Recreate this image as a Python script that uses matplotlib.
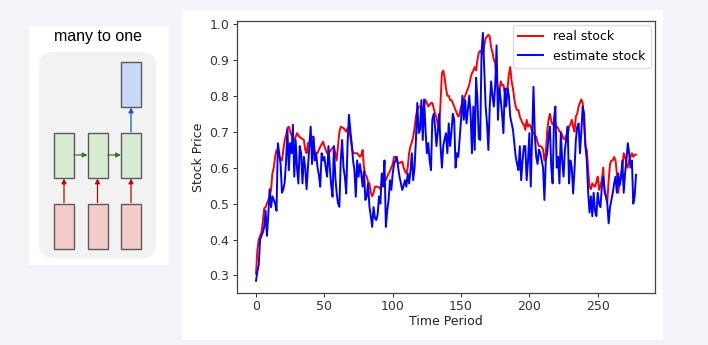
import numpy as np
import matplotlib
matplotlib.use("Agg")
import matplotlib.pyplot as plt
from matplotlib.patches import Rectangle, FancyBboxPatch

# real vs. estimated stock price (normalised), one value per time period
real_stock = [
    0.305, 0.37, 0.40, 0.41, 0.42, 0.45, 0.487, 0.49, 0.50, 0.51,
    0.52, 0.538, 0.584, 0.60, 0.63, 0.649, 0.64, 0.63, 0.625, 0.62,
    0.65, 0.677, 0.69, 0.71, 0.714, 0.70, 0.69, 0.68, 0.677, 0.685,
    0.696, 0.69, 0.685, 0.682, 0.68, 0.677, 0.65, 0.64, 0.668, 0.668,
    0.686, 0.686, 0.686, 0.644, 0.64, 0.64, 0.65, 0.658, 0.665, 0.672,
    0.66, 0.65, 0.64, 0.642, 0.644, 0.65, 0.655, 0.658, 0.64, 0.62,
    0.66, 0.70, 0.714, 0.712, 0.71, 0.705, 0.70, 0.71, 0.705, 0.686,
    0.66, 0.64, 0.64, 0.64, 0.64, 0.635, 0.63, 0.635, 0.649, 0.60,
    0.58, 0.575, 0.56, 0.556, 0.53, 0.52, 0.53, 0.547, 0.547, 0.547,
    0.545, 0.54, 0.56, 0.575, 0.57, 0.565, 0.575, 0.584, 0.59, 0.60,
    0.61, 0.63, 0.63, 0.62, 0.615, 0.612, 0.615, 0.617, 0.60, 0.59,
    0.584, 0.60, 0.64, 0.66, 0.67, 0.686, 0.71, 0.742, 0.76, 0.77,
    0.77, 0.765, 0.76, 0.775, 0.788, 0.78, 0.77, 0.775, 0.78, 0.78,
    0.765, 0.75, 0.74, 0.72, 0.714, 0.78, 0.863, 0.87, 0.85, 0.82,
    0.80, 0.80, 0.788, 0.788, 0.78, 0.77, 0.76, 0.75, 0.742, 0.75,
    0.77, 0.78, 0.79, 0.80, 0.81, 0.82, 0.83, 0.85, 0.863, 0.87,
    0.88, 0.87, 0.90, 0.92, 0.925, 0.92, 0.915, 0.94, 0.96, 0.965,
    0.97, 0.965, 0.935, 0.92, 0.90, 0.89, 0.85, 0.82, 0.81, 0.84,
    0.83, 0.83, 0.81, 0.82, 0.82, 0.86, 0.88, 0.84, 0.82, 0.79,
    0.77, 0.76, 0.76, 0.742, 0.733, 0.723, 0.72, 0.705, 0.733, 0.714,
    0.72, 0.714, 0.70, 0.696, 0.69, 0.686, 0.67, 0.66, 0.66, 0.658,
    0.65, 0.62, 0.64, 0.70, 0.733, 0.75, 0.73, 0.72, 0.723, 0.72,
    0.714, 0.71, 0.70, 0.70, 0.69, 0.68, 0.68, 0.69, 0.686, 0.714,
    0.72, 0.733, 0.714, 0.70, 0.742, 0.75, 0.77, 0.78, 0.79, 0.78,
    0.72, 0.66, 0.649, 0.593, 0.547, 0.54, 0.556, 0.55, 0.547, 0.56,
    0.575, 0.538, 0.55, 0.565, 0.60, 0.53, 0.52, 0.505, 0.565, 0.61,
    0.62, 0.62, 0.63, 0.62, 0.584, 0.53, 0.56, 0.58, 0.60, 0.64,
    0.63, 0.61, 0.60, 0.62, 0.63, 0.64, 0.63, 0.636, 0.636,
]

estimate_stock = [
    0.285, 0.31, 0.33, 0.40, 0.41, 0.42, 0.435, 0.48, 0.41, 0.47,
    0.54, 0.49, 0.52, 0.51, 0.50, 0.48, 0.668, 0.64, 0.61, 0.53,
    0.54, 0.56, 0.62, 0.705, 0.593, 0.668, 0.64, 0.719, 0.575, 0.677,
    0.60, 0.556, 0.66, 0.64, 0.556, 0.63, 0.60, 0.54, 0.60, 0.66,
    0.714, 0.61, 0.686, 0.62, 0.64, 0.60, 0.58, 0.547, 0.64, 0.62,
    0.63, 0.60, 0.575, 0.66, 0.60, 0.55, 0.519, 0.66, 0.575, 0.53,
    0.50, 0.491, 0.62, 0.677, 0.60, 0.575, 0.528, 0.668, 0.747, 0.705,
    0.668, 0.62, 0.593, 0.519, 0.62, 0.575, 0.61, 0.584, 0.547, 0.59,
    0.51, 0.52, 0.556, 0.491, 0.465, 0.435, 0.49, 0.46, 0.454, 0.47,
    0.52, 0.50, 0.584, 0.547, 0.62, 0.435, 0.48, 0.51, 0.565, 0.538,
    0.584, 0.61, 0.62, 0.63, 0.60, 0.575, 0.556, 0.538, 0.55, 0.565,
    0.547, 0.584, 0.556, 0.59, 0.64, 0.565, 0.60, 0.677, 0.78, 0.696,
    0.705, 0.788, 0.677, 0.79, 0.705, 0.64, 0.668, 0.62, 0.593, 0.733,
    0.75, 0.714, 0.66, 0.70, 0.75, 0.66, 0.60, 0.66, 0.68, 0.696,
    0.64, 0.723, 0.66, 0.70, 0.75, 0.733, 0.60, 0.64, 0.63, 0.68,
    0.733, 0.80, 0.733, 0.788, 0.723, 0.76, 0.80, 0.75, 0.64, 0.77,
    0.649, 0.85, 0.79, 0.68, 0.677, 0.92, 0.975, 0.87, 0.77, 0.723,
    0.649, 0.77, 0.84, 0.80, 0.77, 0.83, 0.94, 0.733, 0.82, 0.79,
    0.75, 0.696, 0.82, 0.77, 0.82, 0.80, 0.742, 0.723, 0.705, 0.668,
    0.63, 0.61, 0.593, 0.66, 0.565, 0.62, 0.66, 0.66, 0.565, 0.62,
    0.696, 0.547, 0.686, 0.825, 0.69, 0.63, 0.61, 0.65, 0.64, 0.62,
    0.60, 0.51, 0.62, 0.64, 0.686, 0.714, 0.60, 0.556, 0.733, 0.77,
    0.60, 0.63, 0.556, 0.696, 0.62, 0.575, 0.65, 0.68, 0.714, 0.556,
    0.62, 0.60, 0.528, 0.593, 0.677, 0.714, 0.723, 0.64, 0.70, 0.77,
    0.75, 0.66, 0.62, 0.53, 0.475, 0.52, 0.465, 0.53, 0.48, 0.465,
    0.53, 0.50, 0.49, 0.547, 0.575, 0.54, 0.52, 0.50, 0.445, 0.49,
    0.51, 0.53, 0.556, 0.575, 0.53, 0.584, 0.55, 0.57, 0.62, 0.53,
    0.584, 0.62, 0.668, 0.64, 0.60, 0.62, 0.50, 0.52, 0.58,
]

x_ticks = [0, 50, 100, 150, 200, 250]
y_ticks = [0.3, 0.4, 0.5, 0.6, 0.7, 0.8, 0.9, 1.0]

W, H = 708, 345
fig = plt.figure(figsize=(W / 100, H / 100), dpi=100, facecolor="#f3f4f8")

# ---------------------------------------------------------------------------
# left: "many to one" RNN sketch, drawn in pixel coordinates
# ---------------------------------------------------------------------------
bg = fig.add_axes([0, 0, 1, 1])
bg.set_xlim(0, W)
bg.set_ylim(H, 0)
bg.axis("off")

bg.add_patch(Rectangle((29, 26), 140, 239, facecolor="white", edgecolor="none"))
bg.add_patch(Rectangle((182, 10), 481, 330, facecolor="white", edgecolor="none"))
bg.add_patch(FancyBboxPatch((39 + 14, 52 + 14), 117 - 28, 206 - 28,
                            boxstyle="round,pad=14", facecolor="#f2f2f2",
                            edgecolor="none"))
bg.text(98, 36, "many to one", ha="center", va="center", fontsize=11.5,
        family="Liberation Sans", color="black")

box_x = [54, 87.5, 121]
box_w, box_h = 20, 45
edge = "#5b5b5b"
for bx in box_x:
    bg.add_patch(Rectangle((bx, 203.5), box_w, box_h, facecolor="#f4cccc",
                           edgecolor=edge, lw=1.0))
    bg.add_patch(Rectangle((bx, 132.5), box_w, box_h, facecolor="#d9ead3",
                           edgecolor=edge, lw=1.0))
    bg.annotate("", xy=(bx + box_w / 2, 178.5), xytext=(bx + box_w / 2, 202.5),
                arrowprops=dict(arrowstyle="-|>", color="#cc0000", lw=0.9,
                                mutation_scale=7, shrinkA=0, shrinkB=0))
bg.add_patch(Rectangle((121, 62), box_w, box_h, facecolor="#c9daf8",
                       edgecolor=edge, lw=1.0))
for x0, x1 in [(74, 87.5), (107.5, 121)]:
    bg.annotate("", xy=(x1, 155), xytext=(x0, 155),
                arrowprops=dict(arrowstyle="-|>", color="#38761d", lw=0.9,
                                mutation_scale=7, shrinkA=0, shrinkB=0))
bg.annotate("", xy=(131, 107.5), xytext=(131, 132),
            arrowprops=dict(arrowstyle="-|>", color="#1155cc", lw=0.9,
                            mutation_scale=7, shrinkA=0, shrinkB=0))

# ---------------------------------------------------------------------------
# right: stock price chart
# ---------------------------------------------------------------------------
left, right, top, bottom = 237, 655, 21, 292.7
ax = fig.add_axes([left / W, 1 - bottom / H, (right - left) / W, (bottom - top) / H])

t = np.arange(len(real_stock))
ax.plot(t, real_stock, color="red", lw=1.4, label="real stock")
ax.plot(t, estimate_stock, color="blue", lw=1.4, label="estimate stock")

ax.set_xticks(x_ticks)
ax.set_yticks(y_ticks)
ax.set_ylim(0.252, 1.008)
ax.tick_params(labelsize=9, length=3, width=0.7, colors="#333333", pad=2.5)
for s in ax.spines.values():
    s.set_color("#444444")
    s.set_linewidth(0.9)
ax.set_xlabel("Time Period", fontsize=9, color="#222222", labelpad=1)
ax.set_ylabel("Stock Price", fontsize=9, color="#222222", labelpad=3)
ax.legend(loc="upper right", fontsize=9, framealpha=1, edgecolor="#dddddd",
          handlelength=2.0, borderaxespad=0.35)

fig.savefig("out.png", dpi=100, facecolor=fig.get_facecolor())
